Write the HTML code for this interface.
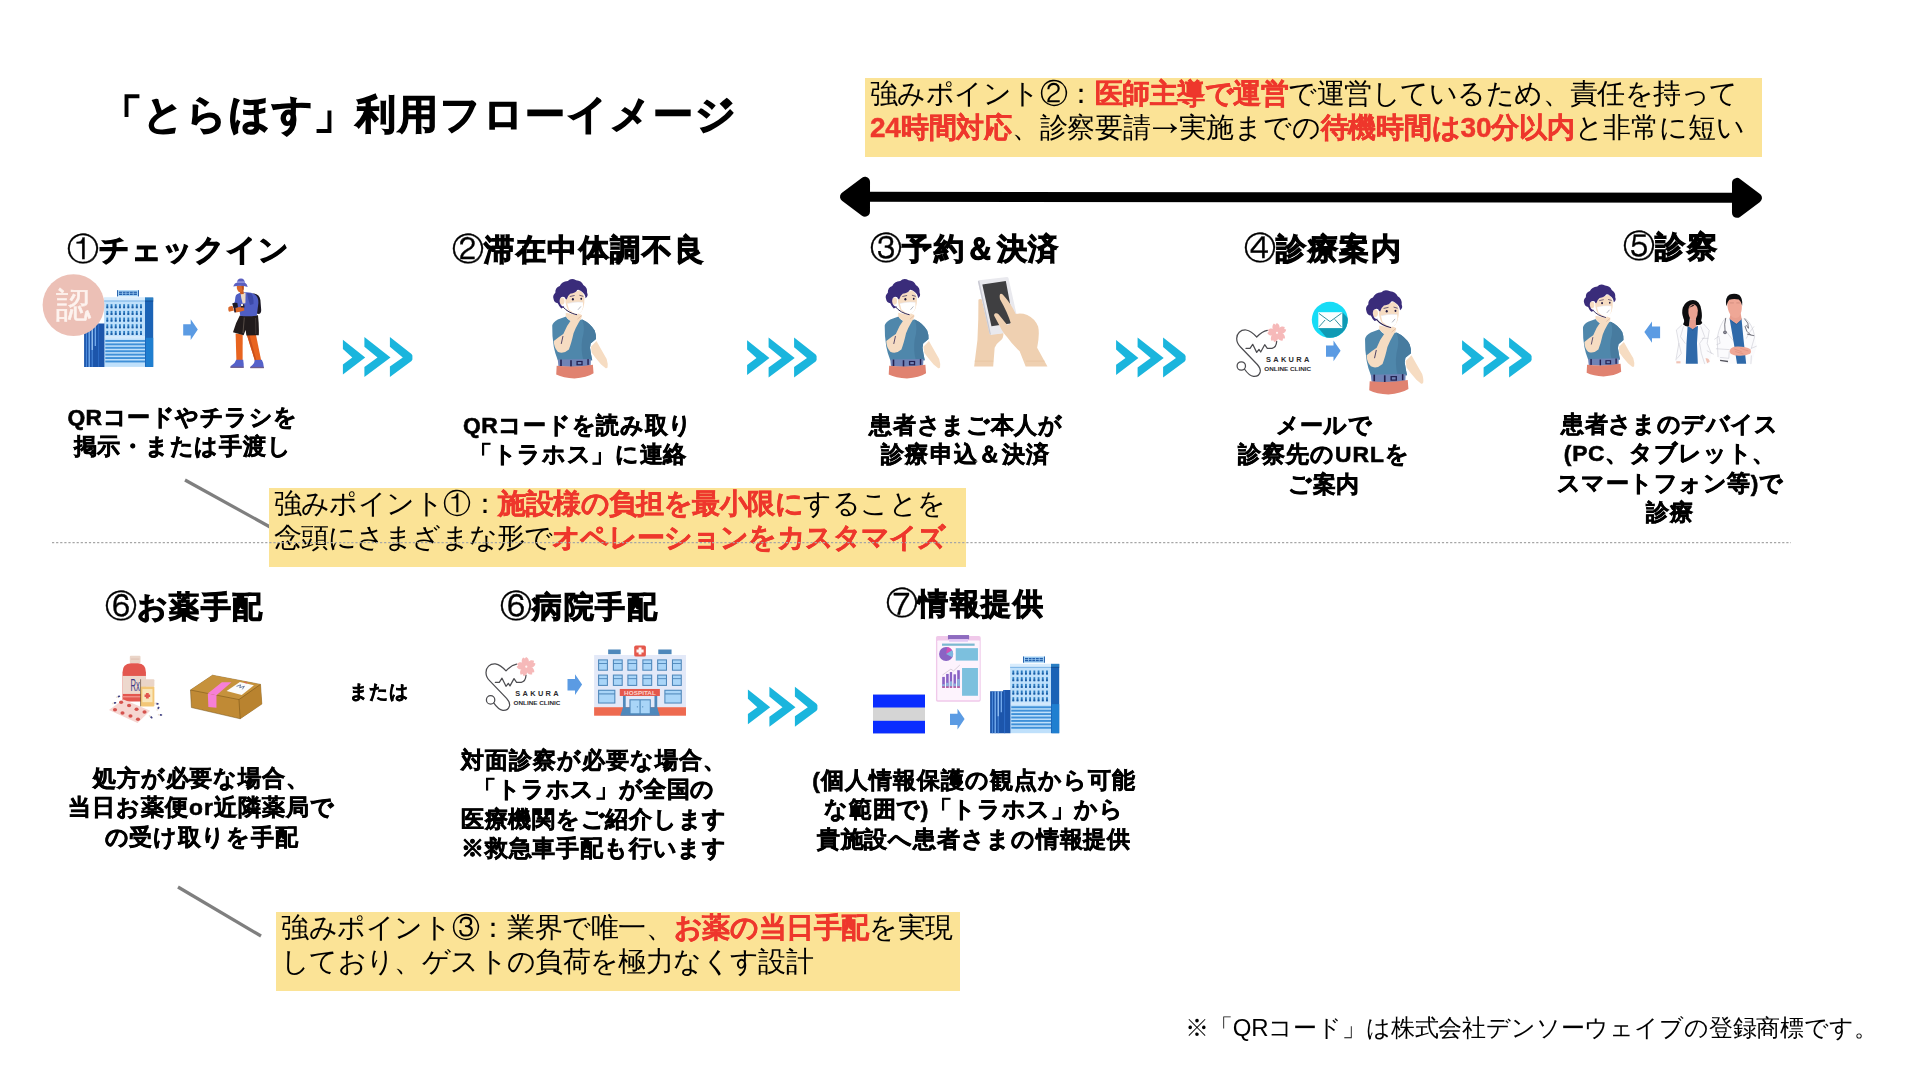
<!DOCTYPE html>
<html lang="ja">
<head>
<meta charset="utf-8">
<title>「とらほす」利用フローイメージ</title>
<style>
html,body{margin:0;padding:0;background:#fff;}
body{width:1920px;height:1080px;position:relative;overflow:hidden;font-family:"Liberation Sans",sans-serif;color:#000;}
#t{position:absolute;left:0;top:0;width:1920px;height:1080px;will-change:transform;}
.a{position:absolute;white-space:nowrap;}
.title{left:101.5px;top:85px;font-size:40.3px;letter-spacing:2.4px;line-height:60px;font-weight:bold;-webkit-text-stroke:1.3px #000;}
.h{font-size:30.4px;letter-spacing:1.6px;line-height:44px;font-weight:bold;-webkit-text-stroke:1.1px #000;margin:-1px 0 0 1px;}
.h i{font-style:normal;font-weight:normal;font-size:32px;letter-spacing:0;-webkit-text-stroke:0.35px #000;}
.d{font-size:22.8px;letter-spacing:1.2px;line-height:29.4px;font-weight:bold;text-align:center;width:420px;-webkit-text-stroke:0.6px #000;}
.y{background:#fbe396;font-size:28px;line-height:33.5px;box-sizing:border-box;padding:0 0 0 5px;}
.y .l{position:relative;top:-0.8px;}
.ar{display:inline-block;transform:translateY(-6.2px) scale(1.45,1.4);}
.y b{color:#ee372c;font-weight:bold;-webkit-text-stroke:0.45px #ee372c;}
.or{left:349px;top:677px;font-size:19px;letter-spacing:1px;line-height:30px;font-weight:bold;-webkit-text-stroke:0.5px #000;}
.note{left:1185px;top:1012px;font-size:24px;line-height:32px;letter-spacing:0.3px;}
.l{display:block;}
svg{position:absolute;left:0;top:0;overflow:visible;}
</style>
</head>
<body>

<!-- ===== shapes layer ===== -->
<svg width="1920" height="1080" viewBox="0 0 1920 1080">
<defs>
<g id="chev" fill="#1ab5dd">
<polygon points="0.9,2.7 23.2,20.5 0.9,37.6 0.9,27.4 10.3,20.5 0.9,12"/>
<polygon points="22.4,0 48.5,20.5 22.4,40 22.4,30.1 35.5,20.5 22.4,9.7"/>
<polygon points="47.9,0 69.5,17 70.4,18.5 70.4,22.5 69.5,24 47.9,40 47.9,29.5 60.8,20.5 47.9,9.7"/>
</g>
<g id="hotel">
<rect x="33" y="0.2" width="21.9" height="6.2" fill="#a5d3f6"/>
<rect x="33" y="0.2" width="0.9" height="6.2" fill="#1f5aa6"/><rect x="54" y="0.2" width="0.9" height="6.2" fill="#1f5aa6"/>
<rect x="35" y="1.6" width="17.9" height="3.4" fill="#2460ad"/>
<g fill="#a5d3f6"><rect x="38" y="1.6" width="0.7" height="3.4"/><rect x="41.6" y="1.6" width="0.7" height="3.4"/><rect x="45.2" y="1.6" width="0.7" height="3.4"/><rect x="48.8" y="1.6" width="0.7" height="3.4"/><rect x="35" y="2.9" width="17.9" height="0.6"/></g>
<rect x="20.1" y="7.6" width="41.4" height="69.3" fill="#bfe0fb"/>
<rect x="20.1" y="7.6" width="41.4" height="3" fill="#d8ecfc"/>
<rect x="20.1" y="10.6" width="41.4" height="0.8" fill="#6aa9e0"/>
<rect x="20.1" y="46" width="41.4" height="2.6" fill="#d3e9fc"/>
<rect x="22.40" y="14.20" width="1.8" height="4" fill="#2c7cc0"/><rect x="22.40" y="16.50" width="1.8" height="1.7" fill="#1c5ba4"/><rect x="26.61" y="14.20" width="1.8" height="4" fill="#2c7cc0"/><rect x="26.61" y="16.50" width="1.8" height="1.7" fill="#1c5ba4"/><rect x="30.82" y="14.20" width="1.8" height="4" fill="#2c7cc0"/><rect x="30.82" y="16.50" width="1.8" height="1.7" fill="#1c5ba4"/><rect x="35.03" y="14.20" width="1.8" height="4" fill="#2c7cc0"/><rect x="35.03" y="16.50" width="1.8" height="1.7" fill="#1c5ba4"/><rect x="39.24" y="14.20" width="1.8" height="4" fill="#2c7cc0"/><rect x="39.24" y="16.50" width="1.8" height="1.7" fill="#1c5ba4"/><rect x="43.45" y="14.20" width="1.8" height="4" fill="#2c7cc0"/><rect x="43.45" y="16.50" width="1.8" height="1.7" fill="#1c5ba4"/><rect x="47.66" y="14.20" width="1.8" height="4" fill="#2c7cc0"/><rect x="47.66" y="16.50" width="1.8" height="1.7" fill="#1c5ba4"/><rect x="51.87" y="14.20" width="1.8" height="4" fill="#2c7cc0"/><rect x="51.87" y="16.50" width="1.8" height="1.7" fill="#1c5ba4"/><rect x="56.08" y="14.20" width="1.8" height="4" fill="#2c7cc0"/><rect x="56.08" y="16.50" width="1.8" height="1.7" fill="#1c5ba4"/><rect x="22.40" y="20.88" width="1.8" height="4" fill="#2c7cc0"/><rect x="22.40" y="23.18" width="1.8" height="1.7" fill="#1c5ba4"/><rect x="26.61" y="20.88" width="1.8" height="4" fill="#2c7cc0"/><rect x="26.61" y="23.18" width="1.8" height="1.7" fill="#1c5ba4"/><rect x="30.82" y="20.88" width="1.8" height="4" fill="#2c7cc0"/><rect x="30.82" y="23.18" width="1.8" height="1.7" fill="#1c5ba4"/><rect x="35.03" y="20.88" width="1.8" height="4" fill="#2c7cc0"/><rect x="35.03" y="23.18" width="1.8" height="1.7" fill="#1c5ba4"/><rect x="39.24" y="20.88" width="1.8" height="4" fill="#2c7cc0"/><rect x="39.24" y="23.18" width="1.8" height="1.7" fill="#1c5ba4"/><rect x="43.45" y="20.88" width="1.8" height="4" fill="#2c7cc0"/><rect x="43.45" y="23.18" width="1.8" height="1.7" fill="#1c5ba4"/><rect x="47.66" y="20.88" width="1.8" height="4" fill="#2c7cc0"/><rect x="47.66" y="23.18" width="1.8" height="1.7" fill="#1c5ba4"/><rect x="51.87" y="20.88" width="1.8" height="4" fill="#2c7cc0"/><rect x="51.87" y="23.18" width="1.8" height="1.7" fill="#1c5ba4"/><rect x="56.08" y="20.88" width="1.8" height="4" fill="#2c7cc0"/><rect x="56.08" y="23.18" width="1.8" height="1.7" fill="#1c5ba4"/><rect x="22.40" y="27.56" width="1.8" height="4" fill="#2c7cc0"/><rect x="22.40" y="29.86" width="1.8" height="1.7" fill="#1c5ba4"/><rect x="26.61" y="27.56" width="1.8" height="4" fill="#2c7cc0"/><rect x="26.61" y="29.86" width="1.8" height="1.7" fill="#1c5ba4"/><rect x="30.82" y="27.56" width="1.8" height="4" fill="#2c7cc0"/><rect x="30.82" y="29.86" width="1.8" height="1.7" fill="#1c5ba4"/><rect x="35.03" y="27.56" width="1.8" height="4" fill="#2c7cc0"/><rect x="35.03" y="29.86" width="1.8" height="1.7" fill="#1c5ba4"/><rect x="39.24" y="27.56" width="1.8" height="4" fill="#2c7cc0"/><rect x="39.24" y="29.86" width="1.8" height="1.7" fill="#1c5ba4"/><rect x="43.45" y="27.56" width="1.8" height="4" fill="#2c7cc0"/><rect x="43.45" y="29.86" width="1.8" height="1.7" fill="#1c5ba4"/><rect x="47.66" y="27.56" width="1.8" height="4" fill="#2c7cc0"/><rect x="47.66" y="29.86" width="1.8" height="1.7" fill="#1c5ba4"/><rect x="51.87" y="27.56" width="1.8" height="4" fill="#2c7cc0"/><rect x="51.87" y="29.86" width="1.8" height="1.7" fill="#1c5ba4"/><rect x="56.08" y="27.56" width="1.8" height="4" fill="#2c7cc0"/><rect x="56.08" y="29.86" width="1.8" height="1.7" fill="#1c5ba4"/><rect x="22.40" y="34.24" width="1.8" height="4" fill="#2c7cc0"/><rect x="22.40" y="36.54" width="1.8" height="1.7" fill="#1c5ba4"/><rect x="26.61" y="34.24" width="1.8" height="4" fill="#2c7cc0"/><rect x="26.61" y="36.54" width="1.8" height="1.7" fill="#1c5ba4"/><rect x="30.82" y="34.24" width="1.8" height="4" fill="#2c7cc0"/><rect x="30.82" y="36.54" width="1.8" height="1.7" fill="#1c5ba4"/><rect x="35.03" y="34.24" width="1.8" height="4" fill="#2c7cc0"/><rect x="35.03" y="36.54" width="1.8" height="1.7" fill="#1c5ba4"/><rect x="39.24" y="34.24" width="1.8" height="4" fill="#2c7cc0"/><rect x="39.24" y="36.54" width="1.8" height="1.7" fill="#1c5ba4"/><rect x="43.45" y="34.24" width="1.8" height="4" fill="#2c7cc0"/><rect x="43.45" y="36.54" width="1.8" height="1.7" fill="#1c5ba4"/><rect x="47.66" y="34.24" width="1.8" height="4" fill="#2c7cc0"/><rect x="47.66" y="36.54" width="1.8" height="1.7" fill="#1c5ba4"/><rect x="51.87" y="34.24" width="1.8" height="4" fill="#2c7cc0"/><rect x="51.87" y="36.54" width="1.8" height="1.7" fill="#1c5ba4"/><rect x="56.08" y="34.24" width="1.8" height="4" fill="#2c7cc0"/><rect x="56.08" y="36.54" width="1.8" height="1.7" fill="#1c5ba4"/><rect x="22.40" y="40.92" width="1.8" height="4" fill="#2c7cc0"/><rect x="22.40" y="43.22" width="1.8" height="1.7" fill="#1c5ba4"/><rect x="26.61" y="40.92" width="1.8" height="4" fill="#2c7cc0"/><rect x="26.61" y="43.22" width="1.8" height="1.7" fill="#1c5ba4"/><rect x="30.82" y="40.92" width="1.8" height="4" fill="#2c7cc0"/><rect x="30.82" y="43.22" width="1.8" height="1.7" fill="#1c5ba4"/><rect x="35.03" y="40.92" width="1.8" height="4" fill="#2c7cc0"/><rect x="35.03" y="43.22" width="1.8" height="1.7" fill="#1c5ba4"/><rect x="39.24" y="40.92" width="1.8" height="4" fill="#2c7cc0"/><rect x="39.24" y="43.22" width="1.8" height="1.7" fill="#1c5ba4"/><rect x="43.45" y="40.92" width="1.8" height="4" fill="#2c7cc0"/><rect x="43.45" y="43.22" width="1.8" height="1.7" fill="#1c5ba4"/><rect x="47.66" y="40.92" width="1.8" height="4" fill="#2c7cc0"/><rect x="47.66" y="43.22" width="1.8" height="1.7" fill="#1c5ba4"/><rect x="51.87" y="40.92" width="1.8" height="4" fill="#2c7cc0"/><rect x="51.87" y="43.22" width="1.8" height="1.7" fill="#1c5ba4"/><rect x="56.08" y="40.92" width="1.8" height="4" fill="#2c7cc0"/><rect x="56.08" y="43.22" width="1.8" height="1.7" fill="#1c5ba4"/><rect x="21.3" y="50.00" width="39.7" height="1.9" fill="#3f90d8"/><rect x="21.3" y="53.42" width="39.7" height="1.9" fill="#3f90d8"/><rect x="21.3" y="56.84" width="39.7" height="1.9" fill="#3f90d8"/><rect x="21.3" y="60.26" width="39.7" height="1.9" fill="#3f90d8"/><rect x="21.3" y="63.68" width="39.7" height="1.9" fill="#3f90d8"/><rect x="21.3" y="67.10" width="39.7" height="1.9" fill="#3f90d8"/><rect x="21.3" y="70.52" width="39.7" height="1.9" fill="#3f90d8"/>
<rect x="61" y="7.6" width="8.2" height="69.3" fill="#1b63b6"/>
<rect x="61" y="7.6" width="8.2" height="3" fill="#2b7fc4"/>
<rect x="61" y="10.6" width="8.2" height="1" fill="#164f96"/>
<rect x="61.8" y="47.8" width="7.4" height="29.1" fill="#1f7fd0"/>
<path d="M0.1,76.9V35H13.2V33.6H20.4V76.9Z" fill="#1c55ab"/>
<g stroke-linecap="butt" fill="none"><path d="M2.4,76.9V35" stroke="#4f8fe0" stroke-width="1"/><path d="M5.2,76.9V35" stroke="#7db4f2" stroke-width="1.3"/><path d="M8.2,76.9V35" stroke="#4f8fe0" stroke-width="1"/><path d="M8.2,60V35" stroke="#a9d0f8" stroke-width="1.1"/><path d="M11.3,56V35" stroke="#7db4f2" stroke-width="1.2"/><path d="M14.6,76.9V34" stroke="#2f6fca" stroke-width="0.9"/></g>
</g>
<g id="arr" fill="#5b9be3"><path d="M0,4.9H7.5V0L14.6,10.2L7.5,20.7V16.3H0Z"/></g>
<g id="trav">
<!-- backpack -->
<path d="M28.6,23.5Q30,21.2 34,21.4Q39.5,22 40.4,28L41.2,38Q41.3,41.8 38.5,42L36.5,41.5L33,24Z" fill="#1d1a26"/>
<!-- legs -->
<path d="M15.6,61.5L22.7,62.5L22.6,88.5L16.4,88.5Z" fill="#e8641f"/>
<path d="M26.8,63L35.8,62L41.2,88.5L35,89Z" fill="#e8641f"/>
<path d="M27,63L29.5,63L36.5,88.8L35,89Z" fill="#c9501a"/>
<!-- shoes -->
<path d="M16.2,87.8L23.2,87.8Q23.9,92 23.7,95.6L10.6,95.6Q10,93.8 12,93Q15,91.5 16.2,87.8Z" fill="#5561c9"/>
<path d="M10.4,94.6H23.7V95.9H10.4Z" fill="#6d5b8c"/>
<path d="M34.8,88L41.8,87.8Q43.8,91 43.9,95.8L30.4,96Q30,94.5 32,93.6Q34.5,92 34.8,88Z" fill="#5561c9"/>
<path d="M30.3,94.9H43.9V96.2H30.3Z" fill="#6d5b8c"/>
<!-- shorts -->
<path d="M19.8,43.5L38,43.2Q39.2,54 38.8,63.3L26.4,63.4L25.6,58L23.6,63.2L13,60.2Q15.5,51 19.8,43.5Z" fill="#211b1c"/>
<path d="M24.3,45.5L23,61" stroke="#8a7d70" stroke-width="0.5" fill="none"/><path d="M35.6,46L35.8,62" stroke="#6b615a" stroke-width="0.4" fill="none"/>
<!-- jacket -->
<path d="M17,22.2Q20,20 25.5,20.3Q31,20 35,22.5Q38.6,25 38.4,31L36.8,43.6Q28,45 20.2,43.8L19.5,38L14,36L15.4,25Q15.8,23 17,22.2Z" fill="#4f5ec4"/>
<path d="M27,21L31,21.5Q34,24 33.5,32L30,33Q28,27 27,21Z" fill="#3c49a8"/>
<!-- shirt -->
<path d="M20.6,21.2L25.6,20.8L25.4,31.2L22.6,31.5Q21,26 20.6,21.2Z" fill="#ecdac6"/>
<!-- neck/face -->
<path d="M19.5,19L23.5,18.5L23.8,22L20.5,22.3Z" fill="#c95a22"/>
<path d="M16.7,13.5L23.7,13.2Q24.2,17.5 22.8,19.6Q20.5,21 18.3,19.6Q16.4,17 16.7,13.5Z" fill="#d9682a"/>
<path d="M21.5,13.3L23.7,13.2Q24.2,17.5 22.8,19.6Q22,16.5 21.5,13.3Z" fill="#b84f1e"/>
<!-- hat -->
<path d="M17,11.2Q16.8,6.4 21,6.4Q24.9,6.4 24.8,11.2Z" fill="#5b5fc0"/>
<path d="M16.9,9.4H24.9V11.2H16.9Z" fill="#9d9fe2"/>
<path d="M13.3,14.6Q14.3,11 17,10.8L25,10.8Q27,11.5 27.7,15Q21,12.8 13.3,14.6Z" fill="#5b5fc0"/>
<!-- arms + camera -->
<path d="M14.2,30.5L19.5,31.2L24,33L24.6,38.5L19.5,39.6L14.6,40.3L13.4,35Z" fill="#4f5ec4"/>
<path d="M12.2,31.4Q14,30.3 17.4,31L18,35.5L13.6,36Z" fill="#1d1a26"/>
<path d="M8.3,35.5Q9.5,33.6 12.5,34L14,38.5L9,39.8Q8,38 8.3,35.5Z" fill="#d9682a"/>
<path d="M15.2,36.2Q19,34.5 23.4,35L24.4,38.6Q20,40.4 15.6,40.4Q14.2,38.5 15.2,36.2Z" fill="#d9682a"/>
<path d="M13.8,36L15.4,35.8L16,40.3L14.6,40.6Z" fill="#2a1a1a"/>
<path d="M20.5,32L24.2,32.2L24.6,35.6L21,35.4Z" fill="#26202c"/>
<circle cx="22" cy="32.9" r="1.2" fill="#f1ece6"/>
</g>
<g id="pers"><g transform="scale(0.11111)">
<!-- right arm (viewer right) -->
<path d="M548,690L598,640Q640,715 690,800Q705,850 698,878Q688,890 676,880L640,850Q590,795 556,745Z" fill="#f6dcc2"/>
<!-- shirt -->
<path d="M200,500Q205,470 250,445L325,418Q350,470 400,455L470,445Q545,480 582,545Q598,590 594,622L546,662L540,700Q548,760 560,812L250,812Q225,750 214,690Q198,600 200,500Z" fill="#4f87ab"/>
<path d="M470,445Q500,520 470,620Q455,720 480,812L560,812Q548,760 540,700L546,662L594,622Q598,590 582,545Q545,480 470,445Z" fill="#477b9f"/>
<!-- neck -->
<path d="M322,385L420,405L440,440Q400,470 360,455Q330,430 322,418Z" fill="#f6dcc2"/>
<!-- forearm raised to chin -->
<path d="M214,640Q260,600 300,575Q330,500 370,450Q400,405 430,398Q462,392 468,415Q462,445 440,470Q410,520 392,570Q372,660 350,715Q300,760 250,735Q215,700 214,640Z" fill="#f6dcc2"/>
<path d="M282,662L296,598" stroke="#2a2050" stroke-width="7" stroke-linecap="round" fill="none"/>
<path d="M430,440L462,412" stroke="#d9a98c" stroke-width="5" stroke-linecap="round" fill="none"/>
<!-- face -->
<ellipse cx="287" cy="280" rx="24" ry="32" fill="#f6dcc2"/>
<path d="M318,255Q340,215 400,200L445,182Q485,205 490,250Q492,300 480,340Q465,385 425,400Q380,395 345,365Q318,320 318,255Z" fill="#f6dcc2"/>
<!-- jaw/strap line -->
<path d="M300,335Q340,385 420,402" stroke="#2a2050" stroke-width="9" stroke-linecap="round" fill="none"/>
<!-- mask -->
<path d="M336,302Q400,282 476,290Q484,330 466,370Q445,395 425,397Q385,388 350,355Z" fill="#ffffff"/>
<path d="M336,302Q400,282 476,290" stroke="#e3e6ee" stroke-width="5" fill="none"/>
<path d="M432,358L458,328" stroke="#555a70" stroke-width="4" fill="none"/>
<!-- eyes / brows -->
<ellipse cx="386" cy="263" rx="9" ry="11" fill="#1e1840"/><ellipse cx="461" cy="259" rx="8" ry="10" fill="#1e1840"/>
<path d="M362,238L398,230" stroke="#2a2050" stroke-width="6" stroke-linecap="round"/><path d="M448,228L476,236" stroke="#2a2050" stroke-width="6" stroke-linecap="round"/>
<!-- hair -->
<path d="M212,262Q200,230 228,205Q225,160 268,145Q285,105 340,100Q370,68 415,92Q462,95 480,135Q520,160 514,205Q528,235 500,255Q498,215 462,192Q440,172 425,180Q410,208 362,214Q335,235 330,265Q318,262 312,245Q288,235 272,255Q258,285 280,318Q300,335 305,325Q312,338 282,346Q262,330 250,300Q218,295 212,262Z" fill="#3a2c7a"/>
<!-- belt -->
<path d="M250,806L548,800L546,862Q400,880 256,866Z" fill="#7083b6"/>
<g fill="#232050"><rect x="272" y="806" width="14" height="58"/><rect x="362" y="812" width="14" height="58"/><rect x="516" y="802" width="13" height="52"/><rect x="418" y="818" width="56" height="40"/></g>
<rect x="430" y="828" width="32" height="20" fill="#7083b6"/>
<!-- pants -->
<path d="M240,862Q400,880 566,852L572,930Q510,968 400,976Q300,972 236,940Z" fill="#e08270"/>
</g></g>
<g id="phone"><g transform="scale(0.09724)">
<!-- left hand -->
<path d="M138,305Q150,292 172,300L262,660L395,648Q400,700 360,730Q318,760 305,800L290,992L94,992L128,720Q140,500 138,305Z" fill="#efd0b1"/>
<path d="M100,930H290V945H100Z" fill="#e8c6a4" opacity="0.6"/>
<!-- phone body -->
<path d="M133,118Q135,108 146,106L432,72Q444,72 447,82L565,610Q566,622 554,625L268,668Q256,668 252,656Z" fill="#e9e9ee"/>
<path d="M133,118L146,106L268,668L252,656Z" fill="#c9c9d2"/>
<!-- screen -->
<path d="M178,150L420,112L500,545L272,578Z" fill="#3f3f41"/>
<!-- right hand -->
<path d="M362,248Q372,238 388,252Q470,340 522,452Q580,440 640,462Q720,500 752,580Q770,660 742,800L848,992L624,992L562,835Q480,760 432,690Q400,655 380,620L300,470Q296,452 312,446Q330,440 345,455L430,560Q455,570 470,545Q440,440 360,300Q352,262 362,248Z" fill="#efd0b1"/>
<path d="M362,248Q440,380 478,545Q470,560 450,562Q420,440 360,300Q352,262 362,248Z" fill="#2e2e30" opacity="0.0"/>
<path d="M626,930H818V945H632Z" fill="#e8c6a4" opacity="0.6"/>
</g></g>
<g id="sakura">
<g fill="none" stroke="#4c4c50" stroke-width="1.25" stroke-linecap="round" stroke-linejoin="round">
<path d="M39.3,18.3C35,19 31.5,22 28.7,25C26,22 23,19 18,18C12.5,17.6 8.7,21.5 8.7,26.5C8.7,30.5 10.5,33 12.5,35L29.3,52.5C31.5,55 32.8,57.5 32.2,60C31.4,63 28.5,64.6 25.5,64.4C22,64 19.5,61.5 16.4,57"/>
<circle cx="13.3" cy="54" r="4.2"/>
<path d="M18,36.4H22L24.7,32.3L28.7,40.4L31,37.4L32.7,40L36.7,32.7L39.3,36.4H44C47,35.8 48.5,32.5 48.7,29.3"/>
</g>
<g transform="translate(49,20.8)" fill="#f6b9b9"><path transform="rotate(-82)" d="M0,0C-4.6,-3 -4.4,-7.6 -1.5,-9.6L0,-8.2L1.5,-9.6C4.4,-7.6 4.6,-3 0,0Z"/><path transform="rotate(-10)" d="M0,0C-4.6,-3 -4.4,-7.6 -1.5,-9.6L0,-8.2L1.5,-9.6C4.4,-7.6 4.6,-3 0,0Z"/><path transform="rotate(62)" d="M0,0C-4.6,-3 -4.4,-7.6 -1.5,-9.6L0,-8.2L1.5,-9.6C4.4,-7.6 4.6,-3 0,0Z"/><path transform="rotate(134)" d="M0,0C-4.6,-3 -4.4,-7.6 -1.5,-9.6L0,-8.2L1.5,-9.6C4.4,-7.6 4.6,-3 0,0Z"/><path transform="rotate(206)" d="M0,0C-4.6,-3 -4.4,-7.6 -1.5,-9.6L0,-8.2L1.5,-9.6C4.4,-7.6 4.6,-3 0,0Z"/><circle r="1.1" fill="#fff5f3"/></g>
<text x="38" y="50" font-family="'Liberation Sans',sans-serif" font-weight="bold" font-size="7.4" textLength="43.3" lengthAdjust="spacing" fill="#2b2b2e">SAKURA</text>
<text x="36.3" y="58.7" font-family="'Liberation Sans',sans-serif" font-weight="bold" font-size="5.9" textLength="46.8" lengthAdjust="spacingAndGlyphs" fill="#2b2b2e">ONLINE CLINIC</text>
</g>
<g id="mail">
<clipPath id="mc"><circle cx="0" cy="0" r="18"/></clipPath>
<circle r="18" fill="#17dcf6"/>
<path clip-path="url(#mc)" d="M-11.5,8.3L12.5,-7.6L40,20L12,36Z" fill="#0f9ab4"/>
<rect x="-11.5" y="-7.6" width="24" height="15.9" fill="#fbffff"/>
<path d="M-10.8,-6.3L0.2,1.8L11.8,-6.6M-10.8,7L-4.7,0.2M11.5,7L5,-0.4" fill="none" stroke="#1c8496" stroke-width="0.9"/>
</g>
<g id="docs"><g transform="scale(0.08333)">
<!-- female coat (white w/ faint lines) -->
<path d="M165,480L235,500L215,945L100,945L95,900L130,700L100,540Z" fill="#fbfbfd"/>
<path d="M360,490L430,470L495,545L470,700L520,820L500,945L355,945Z" fill="#fbfbfd"/>
<g fill="none" stroke="#c9c9d3" stroke-width="7" stroke-linecap="round">
<path d="M165,480L100,540L130,700L95,900"/><path d="M185,500L150,620L205,700"/><path d="M430,470L495,545L470,700L520,820"/><path d="M395,500L440,620L380,700L400,820L440,945"/><path d="M410,640H480"/><path d="M130,700L160,820L110,880"/><path d="M470,790L545,830"/>
</g>
<!-- female scrubs -->
<path d="M235,495L295,520L360,490L348,700L358,945L214,945L222,700Z" fill="#2f69a9"/>
<path d="M262,500L296,545L335,498" fill="none" stroke="#254f86" stroke-width="6"/>
<!-- female neck/face/hair -->
<path d="M262,410L338,410L345,495L296,530L250,498Z" fill="#e79c8c"/>
<path d="M300,180Q385,185 400,300Q415,380 398,425L412,455Q380,490 335,478L335,400L262,400L250,495Q215,505 180,470Q205,440 185,400Q160,330 178,270Q215,180 300,180Z" fill="#0c0c0e"/>
<path d="M245,300Q250,235 300,232Q352,238 358,305Q360,370 332,410Q300,430 272,410Q242,370 245,300Z" fill="#eba392"/>
<path d="M248,290Q270,240 320,238Q300,260 280,262Q262,268 248,290Z" fill="#0c0c0e"/>
<!-- hand spots -->
<path d="M100,915H150V940H100Z" fill="#f1c2b4"/><path d="M450,880Q490,870 500,920L470,940Z" fill="#f1c2b4"/>
<!-- male coat -->
<path d="M690,395L745,420L830,945L640,945L600,860L590,640Q620,470 690,395Z" fill="#fbfbfd"/>
<path d="M880,400L930,400Q1020,480 1040,620L1065,740L1000,945L935,945Z" fill="#fbfbfd"/>
<g fill="none" stroke="#c9c9d3" stroke-width="7" stroke-linecap="round">
<path d="M690,395Q620,470 590,640L600,860"/><path d="M560,650L610,615L625,700L585,715"/><path d="M580,765L735,775"/><path d="M700,560L810,700"/><path d="M930,400Q1020,480 1040,620L1000,760"/><path d="M1000,760L1060,735"/><path d="M1000,850L995,945"/><path d="M735,800L730,880L630,870"/><path d="M940,640L985,560L1030,500"/>
</g>
<path d="M625,905L720,918" stroke="#55555e" stroke-width="16" stroke-linecap="butt" fill="none"/>
<!-- male scrubs -->
<path d="M738,398L820,462L882,398L905,640L938,945L828,945L790,700Z" fill="#2f69a9"/>
<path d="M770,440L822,470L868,430" fill="none" stroke="#254f86" stroke-width="6"/>
<!-- male neck/face/hair -->
<path d="M752,340L872,340L885,410L822,465L738,405Z" fill="#e99f8f"/>
<path d="M712,250Q700,150 790,132Q875,140 886,250Q890,330 850,385Q810,410 770,385Q722,335 712,250Z" fill="#efa796"/>
<path d="M700,255Q680,150 740,115Q800,92 855,120Q900,160 890,250Q880,200 850,175Q790,160 735,178Q712,205 700,255Z" fill="#0e0e10"/>
<path d="M742,215H790M820,215H862" stroke="#b9796c" stroke-width="6" fill="none"/>
<!-- stethoscope -->
<g fill="none" stroke="#4b4b57" stroke-width="9" stroke-linecap="round">
<path d="M692,400Q672,470 684,545"/><path d="M920,405Q975,455 965,520Q940,470 925,500Q935,560 990,600"/><path d="M952,590L1030,608"/>
</g>
<circle cx="684" cy="568" r="22" fill="#6a6a76"/><circle cx="684" cy="568" r="10" fill="#9c9ca8"/>
<!-- hands -->
<path d="M742,780Q760,740 830,738Q930,735 990,770Q1005,800 985,825Q930,850 860,848Q790,850 752,825Q735,805 742,780Z" fill="#efa796"/>
<path d="M800,770L880,800M810,800L900,825M870,760L960,790" stroke="#d98676" stroke-width="6" fill="none" stroke-linecap="round"/>
</g></g>
<g id="med"><g transform="scale(0.09375)">
<g transform="translate(192,552) rotate(-20)"><rect x="-24" y="-9" width="48" height="18" rx="9" fill="#efe3d6"/><path d="M0,-9H15A9,9 0 0 1 15,9H0Z" fill="#3b3f86"/></g><g transform="translate(150,620) rotate(-15)"><rect x="-24" y="-9" width="48" height="18" rx="9" fill="#efe3d6"/><path d="M0,-9H15A9,9 0 0 1 15,9H0Z" fill="#3b3f86"/></g><g transform="translate(602,625) rotate(10)"><rect x="-24" y="-9" width="48" height="18" rx="9" fill="#efe3d6"/><path d="M0,-9H15A9,9 0 0 1 15,9H0Z" fill="#3b3f86"/></g><g transform="translate(618,680) rotate(-60)"><rect x="-24" y="-9" width="48" height="18" rx="9" fill="#efe3d6"/><path d="M0,-9H15A9,9 0 0 1 15,9H0Z" fill="#3b3f86"/></g><g transform="translate(640,745) rotate(5)"><rect x="-24" y="-9" width="48" height="18" rx="9" fill="#efe3d6"/><path d="M0,-9H15A9,9 0 0 1 15,9H0Z" fill="#3b3f86"/></g><g transform="translate(540,765) rotate(40)"><rect x="-24" y="-9" width="48" height="18" rx="9" fill="#efe3d6"/><path d="M0,-9H15A9,9 0 0 1 15,9H0Z" fill="#3b3f86"/></g>
<!-- big bottle -->
<rect x="318" y="115" width="114" height="80" rx="10" fill="#ead5c8"/>
<path d="M330,150H420" stroke="#d9b9a8" stroke-width="8"/>
<path d="M240,290Q240,200 330,195H405Q490,200 490,290V590Q490,602 478,602H252Q240,602 240,590Z" fill="#e3574f"/>
<rect x="240" y="330" width="250" height="192" fill="#edd8cd"/>
<rect x="240" y="545" width="250" height="14" fill="#f1948c"/>
<text x="325" y="492" font-family="'Liberation Sans',sans-serif" font-size="170" textLength="100" lengthAdjust="spacingAndGlyphs" fill="#3c3a86">Rx</text>
<!-- blister -->
<path d="M95,692L250,580L535,702L400,832Z" fill="#f6d6d1"/>
<ellipse cx="225" cy="610" rx="22" ry="19" fill="#d5524d"/><ellipse cx="310" cy="645" rx="22" ry="19" fill="#d5524d"/><ellipse cx="390" cy="685" rx="22" ry="19" fill="#d5524d"/><ellipse cx="475" cy="715" rx="22" ry="19" fill="#d5524d"/><ellipse cx="160" cy="690" rx="22" ry="19" fill="#d5524d"/><ellipse cx="240" cy="725" rx="22" ry="19" fill="#d5524d"/><ellipse cx="325" cy="757" rx="22" ry="19" fill="#d5524d"/><ellipse cx="405" cy="792" rx="22" ry="19" fill="#d5524d"/>
<!-- small bottle -->
<rect x="432" y="440" width="148" height="216" rx="12" fill="#f3c777"/>
<rect x="428" y="365" width="152" height="78" rx="10" fill="#ead5c8"/>
<rect x="428" y="365" width="10" height="290" fill="#3a2418" opacity="0.55"/>
<rect x="452" y="470" width="108" height="140" fill="#f8e6bb"/>
<path d="M490,512H520V527H535V555H520V570H490V555H475V527H490Z" fill="#e3574f"/>
</g></g>
<g id="box"><g transform="scale(0.09375)">
<path d="M965,480L1200,322L1712,420L1726,630L1495,787L975,667Z" fill="#c08a35" stroke="#6b4a14" stroke-width="5" stroke-linejoin="round"/>
<path d="M965,480L1200,322L1712,420L1482,582Z" fill="#c6923c"/>
<path d="M1482,582L1712,420L1726,630L1495,787Z" fill="#b9832f"/>
<path d="M965,480L1482,582L1495,787M1482,582L1712,420" fill="none" stroke="#6b4a14" stroke-width="5" stroke-linejoin="round"/>
<path d="M1150,518L1300,398L1402,398L1242,536Z" fill="#f77fd6"/>
<path d="M1150,518L1242,536L1242,668L1156,660Z" fill="#f77fd6"/>
<path d="M1350,490L1492,394L1642,430L1512,532Z" fill="#fbfbfa"/>
<path d="M1460,440L1500,425L1490,455L1540,440L1520,470" fill="none" stroke="#2f4a7a" stroke-width="7" stroke-linecap="round" stroke-linejoin="round"/>
<path d="M1545,400L1565,405" stroke="#e0506a" stroke-width="9" stroke-linecap="round"/>
</g></g>
<g id="hosp"><g transform="scale(0.07593)">
<rect x="305" y="125" width="165" height="62" fill="#4f88bb"/><rect x="965" y="125" width="175" height="62" fill="#4f88bb"/>
<rect x="120" y="198" width="1210" height="690" fill="#e3e9f8"/>
<rect x="648" y="72" width="154" height="146" rx="22" fill="#e5584c"/>
<path d="M706,100H744V126H772V164H744V192H706V164H678V126H706Z" fill="#fdf4f2"/>
<rect x="172" y="255" width="130" height="150" fill="#4f88bb"/><rect x="186" y="269" width="102" height="34" fill="#a9d5f8"/><rect x="186" y="315" width="102" height="76" fill="#a9d5f8"/><rect x="367" y="255" width="130" height="150" fill="#4f88bb"/><rect x="381" y="269" width="102" height="34" fill="#a9d5f8"/><rect x="381" y="315" width="102" height="76" fill="#a9d5f8"/><rect x="558" y="255" width="130" height="150" fill="#4f88bb"/><rect x="572" y="269" width="102" height="34" fill="#a9d5f8"/><rect x="572" y="315" width="102" height="76" fill="#a9d5f8"/><rect x="755" y="255" width="130" height="150" fill="#4f88bb"/><rect x="769" y="269" width="102" height="34" fill="#a9d5f8"/><rect x="769" y="315" width="102" height="76" fill="#a9d5f8"/><rect x="950" y="255" width="130" height="150" fill="#4f88bb"/><rect x="964" y="269" width="102" height="34" fill="#a9d5f8"/><rect x="964" y="315" width="102" height="76" fill="#a9d5f8"/><rect x="1145" y="255" width="130" height="150" fill="#4f88bb"/><rect x="1159" y="269" width="102" height="34" fill="#a9d5f8"/><rect x="1159" y="315" width="102" height="76" fill="#a9d5f8"/><rect x="172" y="455" width="130" height="150" fill="#4f88bb"/><rect x="186" y="469" width="102" height="34" fill="#a9d5f8"/><rect x="186" y="515" width="102" height="76" fill="#a9d5f8"/><rect x="367" y="455" width="130" height="150" fill="#4f88bb"/><rect x="381" y="469" width="102" height="34" fill="#a9d5f8"/><rect x="381" y="515" width="102" height="76" fill="#a9d5f8"/><rect x="558" y="455" width="130" height="150" fill="#4f88bb"/><rect x="572" y="469" width="102" height="34" fill="#a9d5f8"/><rect x="572" y="515" width="102" height="76" fill="#a9d5f8"/><rect x="755" y="455" width="130" height="150" fill="#4f88bb"/><rect x="769" y="469" width="102" height="34" fill="#a9d5f8"/><rect x="769" y="515" width="102" height="76" fill="#a9d5f8"/><rect x="950" y="455" width="130" height="150" fill="#4f88bb"/><rect x="964" y="469" width="102" height="34" fill="#a9d5f8"/><rect x="964" y="515" width="102" height="76" fill="#a9d5f8"/><rect x="1145" y="455" width="130" height="150" fill="#4f88bb"/><rect x="1159" y="469" width="102" height="34" fill="#a9d5f8"/><rect x="1159" y="515" width="102" height="76" fill="#a9d5f8"/>
<rect x="172" y="655" width="228" height="182" fill="#4f88bb"/><rect x="186" y="669" width="200" height="34" fill="#a9d5f8"/><rect x="186" y="717" width="200" height="106" fill="#a9d5f8"/>
<rect x="1045" y="655" width="230" height="182" fill="#4f88bb"/><rect x="1059" y="669" width="202" height="34" fill="#a9d5f8"/><rect x="1059" y="717" width="202" height="106" fill="#a9d5f8"/>
<rect x="120" y="885" width="1210" height="112" fill="#ee6a50"/>
<path d="M500,885H950L985,997H465Z" fill="#4f88bb"/>
<rect x="500" y="735" width="36" height="230" fill="#4f88bb"/><rect x="915" y="735" width="36" height="230" fill="#4f88bb"/>
<rect x="585" y="780" width="282" height="188" fill="#4f88bb"/>
<rect x="600" y="795" width="118" height="170" fill="#a9d5f8"/><rect x="733" y="795" width="120" height="170" fill="#a9d5f8"/>
<circle cx="690" cy="880" r="9" fill="#4f88bb"/><circle cx="760" cy="880" r="9" fill="#4f88bb"/>
<rect x="458" y="645" width="528" height="92" fill="#e5584c"/>
<text x="515" y="722" font-family="'Liberation Sans',sans-serif" font-weight="bold" font-size="82" textLength="418" lengthAdjust="spacingAndGlyphs" fill="#fbd3cb">HOSPITAL</text>
</g></g>
<g id="clip"><g transform="scale(0.07407)">
<rect x="148" y="108" width="604" height="888" rx="24" fill="#f0c9ea"/>
<rect x="166" y="170" width="572" height="806" rx="10" fill="#fdf3fd"/>
<rect x="310" y="95" width="285" height="58" fill="#8e6bbf"/>
<rect x="325" y="150" width="255" height="36" fill="#e2c8f5"/>
<rect x="230" y="210" width="440" height="30" fill="#7bb8d0"/>
<circle cx="285" cy="350" r="95" fill="#8a63c4"/>
<path d="M285,350L300,256A95,95 0 0 1 366,300Z" fill="#d24fb5"/>
<path d="M285,350L366,300A95,95 0 0 1 368,396Z" fill="#7fb6e0"/>
<rect x="415" y="272" width="300" height="168" fill="#7cc0de"/>
<rect x="500" y="540" width="215" height="375" fill="#7cc0de"/>
<g fill="#8a63c4"><rect x="232" y="660" width="36" height="146"/><rect x="285" y="620" width="35" height="186"/><rect x="335" y="595" width="31" height="211"/><rect x="385" y="625" width="33" height="181"/><rect x="435" y="570" width="35" height="236"/></g>
<g fill="#8fb3de"><rect x="232" y="760" width="36" height="30"/><rect x="285" y="740" width="35" height="50"/><rect x="335" y="720" width="31" height="70"/><rect x="385" y="750" width="33" height="40"/><rect x="435" y="690" width="35" height="100"/></g>
<g fill="#c2508f"><rect x="232" y="790" width="36" height="16"/><rect x="285" y="790" width="35" height="16"/><rect x="335" y="790" width="31" height="16"/><rect x="385" y="790" width="33" height="16"/><rect x="435" y="790" width="35" height="16"/></g>
<path d="M235,635L350,555L385,580L470,500" fill="none" stroke="#9a8f9c" stroke-width="5"/>
</g></g>
</defs>


<!-- big double arrow -->
<g fill="#000" stroke="#000" stroke-width="10" stroke-linejoin="round" transform="rotate(0.075 840 196.7)">
<line x1="866" y1="196.7" x2="1736" y2="196.7" stroke-linecap="butt"/>
<polygon points="845,196.7 865,181.7 865,211.7"/>
<polygon points="1757,196.7 1737,181.7 1737,211.7"/>
</g>

<!-- connector lines -->
<line x1="185" y1="480" x2="270" y2="527" stroke="#7f7f7f" stroke-width="3.2"/>
<line x1="178" y1="887" x2="261" y2="936" stroke="#7f7f7f" stroke-width="3.2"/>


<!-- step1 illustrations -->
<use href="#hotel" x="84" y="290"/>
<circle cx="73.5" cy="305.1" r="30.9" fill="#ecc0b6"/>
<use href="#arr" x="183.2" y="319.3"/>
<use href="#trav" x="220" y="272"/>
<use href="#pers" x="530" y="270"/>
<use href="#pers" x="862.5" y="270"/>
<use href="#pers" transform="translate(1341.7,280.6) scale(1.05)"/>
<use href="#pers" transform="translate(1562.4,276.1) scale(0.925)"/>
<use href="#phone" x="965" y="270"/>
<use href="#sakura" x="1228" y="312"/>
<use href="#mail" x="1329.8" y="319.8"/>
<use href="#arr" x="1326" y="340.5"/>
<use href="#arr" transform="translate(1660.1,321.5) scale(-1.08,1.03)"/>
<use href="#sakura" x="477.3" y="645.9"/>
<use href="#arr" x="567.5" y="674.2"/>
<use href="#arr" x="950" y="708.8"/>
<use href="#docs" x="1668" y="285"/>
<use href="#med" x="100" y="645"/>
<use href="#box" x="100" y="645"/>
<use href="#hosp" x="585" y="640"/>
<!-- step7 -->
<rect x="873" y="694.6" width="52" height="38.8" fill="#d5d5d5"/>
<rect x="873" y="694.6" width="52" height="12.9" fill="#0a2dff"/>
<rect x="873" y="720.8" width="52" height="12.6" fill="#0a2dff"/>
<use href="#clip" x="925" y="628"/>
<use href="#hotel" x="990" y="656.3"/>
<!-- chevrons -->
<use href="#chev" x="342" y="337"/>
<use href="#chev" x="746.2" y="337.5"/>
<use href="#chev" x="1115.2" y="337.4"/>
<use href="#chev" x="1461.2" y="337.5"/>
<use href="#chev" x="747" y="686.7"/>
</svg>

<!-- ===== text layer ===== -->
<div id="t">
<div class="a" style="left:56px;top:284px;font-size:35px;line-height:42px;color:#fdf3ef;-webkit-text-stroke:0.5px #fdf3ef;">認</div>
<div class="a title"><span class="l" style="letter-spacing:1.80px">「とらほす」利用フローイメージ</span></div>

<div class="a y" style="left:865px;top:78px;width:897px;height:79px;"><span class="l" style="letter-spacing:-0.52px">強みポイント②：<b>医師主導で運営</b>で運営しているため、責任を持って</span><span class="l" style="letter-spacing:-0.21px"><b>24時間対応</b>、診察要請<span class="ar">→</span>実施までの<b>待機時間は30分以内</b>と非常に短い</span></div>

<div class="a h" style="left:66px;top:228px;"><span class="l" style="letter-spacing:0.74px"><i>①</i>チェックイン</span></div>
<div class="a h" style="left:451px;top:228px;"><span class="l"><i>②</i>滞在中体調不良</span></div>
<div class="a h" style="left:869px;top:227px;"><span class="l"><i>③</i>予約＆決済</span></div>
<div class="a h" style="left:1243px;top:227px;"><span class="l"><i>④</i>診療案内</span></div>
<div class="a h" style="left:1622px;top:225px;"><span class="l"><i>⑤</i>診察</span></div>

<div class="a d" style="left:-27.5px;top:403px;"><span class="l" style="letter-spacing:0.50px">QRコードやチラシを</span><span class="l" style="letter-spacing:0.76px">掲示・または手渡し</span></div>
<div class="a d" style="left:368px;top:411px;"><span class="l" style="letter-spacing:0.70px">QRコードを読み取り</span><span class="l" style="letter-spacing:0.64px">「トラホス」に連絡</span></div>
<div class="a d" style="left:756px;top:411px;"><span class="l" style="letter-spacing:0.70px">患者さまご本人が</span><span class="l">診療申込＆決済</span></div>
<div class="a d" style="left:1114px;top:411px;"><span class="l" style="letter-spacing:0.45px">メールで</span><span class="l" style="letter-spacing:0.95px">診察先のURLを</span><span class="l" style="letter-spacing:0.87px">ご案内</span></div>
<div class="a d" style="left:1460px;top:410px;"><span class="l" style="letter-spacing:0.42px">患者さまのデバイス</span><span class="l" style="letter-spacing:0.70px">(PC、タブレット、</span><span class="l" style="letter-spacing:0.50px">スマートフォン等)で</span><span class="l">診療</span></div>

<div class="a y" style="left:268.5px;top:488px;width:697.5px;height:79px;"><span class="l" style="letter-spacing:-0.54px">強みポイント①：<b>施設様の負担を最小限に</b>することを</span><span class="l" style="letter-spacing:-0.83px">念頭にさまざまな形で<b>オペレーションをカスタマイズ</b></span></div>

<div class="a h" style="left:104px;top:585px;"><span class="l" style="letter-spacing:1.40px"><i>⑥</i>お薬手配</span></div>
<div class="a h" style="left:499px;top:585px;"><span class="l"><i>⑥</i>病院手配</span></div>
<div class="a h" style="left:885px;top:582px;"><span class="l"><i>⑦</i>情報提供</span></div>

<div class="a or"><span class="l">または</span></div>

<div class="a d" style="left:-8.5px;top:764px;"><span class="l" style="letter-spacing:0.98px">処方が必要な場合、</span><span class="l" style="letter-spacing:1.03px">当日お薬便or近隣薬局で</span><span class="l" style="letter-spacing:0.70px">の受け取りを手配</span></div>
<div class="a d" style="left:384px;top:746px;"><span class="l" style="letter-spacing:1.02px">対面診察が必要な場合、</span><span class="l" style="letter-spacing:0.60px">「トラホス」が全国の</span><span class="l" style="letter-spacing:0.75px">医療機関をご紹介します</span><span class="l" style="letter-spacing:0.84px">※救急車手配も行います</span></div>
<div class="a d" style="left:764px;top:766px;"><span class="l" style="letter-spacing:0.99px">(個人情報保護の観点から可能</span><span class="l" style="letter-spacing:0.58px">な範囲で)「トラホス」から</span><span class="l" style="letter-spacing:0.89px">貴施設へ患者さまの情報提供</span></div>

<div class="a y" style="left:276px;top:912px;width:684px;height:79px;"><span class="l" style="letter-spacing:-0.38px">強みポイント③：業界で唯一、<b>お薬の当日手配</b>を実現</span><span class="l" style="letter-spacing:-0.63px">しており、ゲストの負荷を極力なくす設計</span></div>

<div class="a note"><span class="l" style="letter-spacing:-0.15px">※「QRコード」は株式会社デンソーウェイブの登録商標です。</span></div>

</div>

<!-- dotted divider (drawn above the highlight boxes) -->
<svg width="1920" height="1080" viewBox="0 0 1920 1080" style="pointer-events:none"><line x1="52" y1="542.6" x2="1791" y2="542.6" stroke="#a6a6a6" stroke-width="1.2" stroke-dasharray="2.2 1.9"/></svg>

</body>
</html>
